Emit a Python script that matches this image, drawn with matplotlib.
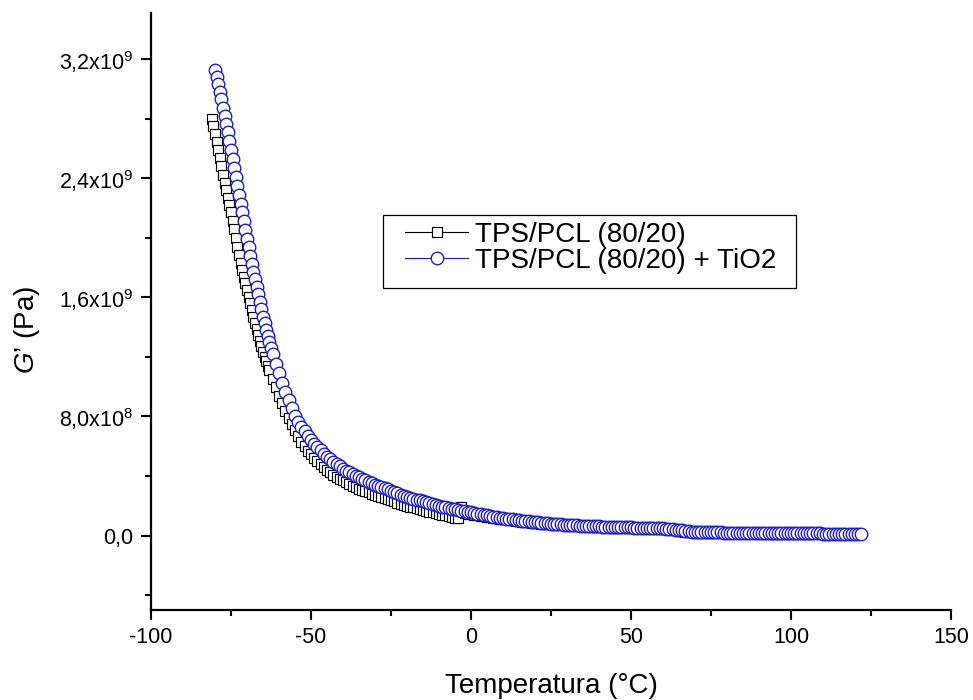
import matplotlib
matplotlib.use("Agg")
import matplotlib.pyplot as plt
from matplotlib.ticker import FixedLocator, MultipleLocator
from matplotlib.patches import Rectangle
from matplotlib.transforms import IdentityTransform

plt.rcParams['font.family'] = ['Liberation Sans', 'DejaVu Sans']
plt.rcParams['mathtext.fontset'] = 'custom'
plt.rcParams['mathtext.rm'] = 'Liberation Sans'
plt.rcParams['mathtext.it'] = 'Liberation Sans:italic'

# ---------------- data (G' in units of 1e9 Pa) ----------------
temp_pcl = [-81, -80.5, -80, -79.5, -79, -78.5, -78, -77.5, -77, -76.5, -76, -75.5, -75, -74.5,
            -74, -73.5, -73, -72.5, -72, -71.5, -71, -70.5, -70, -69.5, -69, -68.5, -68, -67.5,
            -67, -66.5, -66, -65.5, -65, -64.5, -64, -63.5, -63,
            -62, -61, -60, -59, -58, -57, -56, -55, -54, -53, -52, -51, -50, -49, -48, -47,
            -46, -45, -44, -43, -42, -41, -40, -39, -38, -37, -36, -35, -34, -33, -32, -31,
            -30, -29, -28, -27, -26, -25, -24, -23, -22, -21, -20, -19, -18, -17, -16, -15,
            -14, -13, -12, -11, -10, -9, -8, -7, -6, -5, -4, -3, -2, -1, 0, 1, 2, 3, 4, 5,
            6, 7, 8, 9, 10, 11, 12, 13, 14, 15, 16, 17, 18, 19, 20, 21, 22, 23, 24, 25, 26,
            27, 28, 29, 30, 31, 32, 33, 34, 35, 36, 37, 38, 39, 40, 41, 42, 43, 44, 45, 46,
            47, 48, 49, 50, 51, 52, 53, 54, 55, 56, 57, 58, 59, 60, 61, 62, 63, 64, 65, 66,
            67, 68, 69, 70, 71, 72, 73, 74, 75, 76, 77, 78, 79, 80, 81, 82, 83, 84, 85, 86,
            87, 88, 89, 90, 91, 92, 93, 94, 95, 96, 97, 98, 99, 100, 101, 102, 103, 104,
            105, 106, 107]
g_pcl = [2.80, 2.75, 2.70, 2.645, 2.59, 2.535, 2.48, 2.425, 2.37, 2.32, 2.27, 2.22, 2.17, 2.115,
         2.06, 2.00, 1.94, 1.885, 1.83, 1.785, 1.74, 1.695, 1.65, 1.605, 1.56, 1.515, 1.47, 1.43,
         1.39, 1.35, 1.31, 1.27, 1.23, 1.20, 1.17, 1.14, 1.11,
         1.05, 1.00, 0.94, 0.89, 0.84, 0.79, 0.75, 0.71, 0.67, 0.63, 0.60, 0.57, 0.545, 0.52,
         0.50, 0.48, 0.46, 0.44, 0.425, 0.41, 0.395, 0.38, 0.37, 0.357, 0.345, 0.335, 0.325,
         0.315, 0.305, 0.297, 0.29, 0.282, 0.275, 0.267, 0.26, 0.252, 0.245, 0.237, 0.23,
         0.222, 0.215, 0.207, 0.200, 0.195, 0.19, 0.184, 0.178, 0.172, 0.167, 0.161, 0.156,
         0.15, 0.145, 0.14, 0.135, 0.13, 0.125, 0.121, 0.118, 0.19, 0.15, 0.148, 0.145, 0.141,
         0.138, 0.134, 0.131, 0.127, 0.124, 0.12, 0.117, 0.114, 0.111, 0.108, 0.105, 0.102,
         0.099, 0.096, 0.094, 0.091, 0.089, 0.087, 0.085, 0.083, 0.081, 0.079, 0.077, 0.075,
         0.074, 0.072, 0.071, 0.069, 0.068, 0.066, 0.065, 0.064, 0.063, 0.062, 0.061, 0.060,
         0.059, 0.058, 0.057, 0.056, 0.056, 0.055, 0.054, 0.054, 0.053, 0.053, 0.052, 0.052,
         0.051, 0.051, 0.050, 0.050, 0.049, 0.049, 0.048, 0.047, 0.046, 0.045, 0.044, 0.043,
         0.041, 0.039, 0.036, 0.033, 0.030, 0.027, 0.025, 0.023, 0.021, 0.020, 0.019, 0.019,
         0.018, 0.018, 0.017, 0.017, 0.017, 0.016, 0.016, 0.016, 0.016, 0.015, 0.015, 0.015,
         0.015, 0.014, 0.014, 0.014, 0.014, 0.013, 0.013, 0.013, 0.013, 0.012, 0.012, 0.012,
         0.012, 0.012, 0.012, 0.011, 0.011, 0.011, 0.011, 0.011, 0.011, 0.011]

temp_tio2 = [-80, -79.5, -79, -78.5, -78, -77.5, -77, -76.5, -76, -75.5, -75, -74.5, -74, -73.5,
             -73, -72.5, -72, -71.5, -71, -70.5, -70, -69.5, -69, -68.5, -68, -67.5, -67, -66.5,
             -66, -65.5, -65, -64.5, -64, -63.5, -63, -62.5, -62,
             -61, -60, -59, -58, -57, -56, -55, -54, -53, -52, -51, -50, -49, -48, -47, -46,
             -45, -44, -43, -42, -41, -40, -39, -38, -37, -36, -35, -34, -33, -32, -31, -30,
             -29, -28, -27, -26, -25, -24, -23, -22, -21, -20, -19, -18, -17, -16, -15, -14,
             -13, -12, -11, -10, -9, -8, -7, -6, -5, -4, -3, -2, -1, 0, 1, 2, 3, 4, 5, 6, 7,
             8, 9, 10, 11, 12, 13, 14, 15, 16, 17, 18, 19, 20, 21, 22, 23, 24, 25, 26, 27, 28,
             29, 30, 31, 32, 33, 34, 35, 36, 37, 38, 39, 40, 41, 42, 43, 44, 45, 46, 47, 48,
             49, 50, 51, 52, 53, 54, 55, 56, 57, 58, 59, 60, 61, 62, 63, 64, 65, 66, 67, 68,
             69, 70, 71, 72, 73, 74, 75, 76, 77, 78, 79, 80, 81, 82, 83, 84, 85, 86, 87, 88,
             89, 90, 91, 92, 93, 94, 95, 96, 97, 98, 99, 100, 101, 102, 103, 104, 105, 106,
             107, 108, 109, 110, 111, 112, 113, 114, 115, 116, 117, 118, 119, 120, 121, 122]
g_tio2 = [3.13, 3.08, 3.03, 2.98, 2.93, 2.875, 2.82, 2.765, 2.71, 2.65, 2.59, 2.53, 2.47, 2.41,
          2.35, 2.29, 2.23, 2.17, 2.11, 2.05, 1.99, 1.935, 1.88, 1.825, 1.77, 1.72, 1.67, 1.62,
          1.57, 1.52, 1.47, 1.425, 1.38, 1.34, 1.30, 1.26, 1.22,
          1.15, 1.09, 1.025, 0.965, 0.91, 0.855, 0.80, 0.765, 0.73, 0.70, 0.67, 0.64, 0.615,
          0.595, 0.575, 0.55, 0.53, 0.515, 0.495, 0.48, 0.465, 0.45, 0.437, 0.425, 0.412,
          0.40, 0.39, 0.38, 0.37, 0.36, 0.35, 0.34, 0.332, 0.325, 0.317, 0.31, 0.30, 0.29,
          0.283, 0.275, 0.267, 0.26, 0.254, 0.248, 0.242, 0.236, 0.23, 0.224, 0.218, 0.212,
          0.206, 0.20, 0.195, 0.19, 0.185, 0.18, 0.176, 0.172, 0.167, 0.163, 0.159, 0.155,
          0.151, 0.147, 0.143, 0.139, 0.135, 0.131, 0.127, 0.124, 0.12, 0.117, 0.114, 0.111,
          0.108, 0.105, 0.102, 0.100, 0.097, 0.095, 0.092, 0.090, 0.088, 0.086, 0.084, 0.082,
          0.080, 0.078, 0.076, 0.075, 0.073, 0.072, 0.070, 0.069, 0.068, 0.067, 0.066, 0.065,
          0.064, 0.063, 0.062, 0.061, 0.060, 0.060, 0.059, 0.058, 0.057, 0.057, 0.056, 0.056,
          0.055, 0.055, 0.054, 0.054, 0.053, 0.053, 0.052, 0.052, 0.051, 0.050, 0.049, 0.048,
          0.047, 0.045, 0.043, 0.040, 0.037, 0.034, 0.031, 0.029, 0.027, 0.025, 0.024, 0.023,
          0.023, 0.022, 0.022, 0.021, 0.021, 0.021, 0.020, 0.020, 0.020, 0.020, 0.019, 0.019,
          0.019, 0.019, 0.018, 0.018, 0.018, 0.018, 0.017, 0.017, 0.017, 0.017, 0.016, 0.016,
          0.016, 0.016, 0.016, 0.016, 0.015, 0.015, 0.015, 0.015, 0.015, 0.015, 0.014, 0.014,
          0.014, 0.013, 0.013, 0.013, 0.013, 0.012, 0.012, 0.012, 0.012, 0.012, 0.011, 0.011,
          0.011, 0.011]

series_labels = ["TPS/PCL (80/20)", "TPS/PCL (80/20) + TiO2"]
y_ticks = [0.0, 0.8e9, 1.6e9, 2.4e9, 3.2e9]
y_tick_labels = ["0,0", r"8,0x$\mathregular{10^{8}}$", r"1,6x$\mathregular{10^{9}}$",
                 r"2,4x$\mathregular{10^{9}}$", r"3,2x$\mathregular{10^{9}}$"]
x_ticks = [-100, -50, 0, 50, 100, 150]

# ---------------- plot ----------------
fig = plt.figure(figsize=(9.73, 7.0), dpi=100)
ax = fig.add_axes([151 / 973, 90 / 700, 800 / 973, 597 / 700])

blue = '#1e1ec8'
ax.plot(temp_pcl, [v * 1e9 for v in g_pcl], '-', color='black', lw=0.8,
        marker='s', markersize=6.5, markerfacecolor='white', markeredgecolor='black',
        markeredgewidth=0.85, label=series_labels[0], zorder=2)
ax.plot(temp_tio2, [v * 1e9 for v in g_tio2], '-', color=blue, lw=0.8,
        marker='o', markersize=9, markerfacecolor='white', markeredgecolor=blue,
        markeredgewidth=1.0, label=series_labels[1], zorder=3)

ax.set_xlim(-100, 150)
ax.set_ylim(-5.0e8, 3.51e9)

ax.xaxis.set_major_locator(FixedLocator(x_ticks))
ax.xaxis.set_minor_locator(MultipleLocator(25))
ax.set_xticklabels([str(t) for t in x_ticks])
ax.yaxis.set_major_locator(FixedLocator(y_ticks))
ax.yaxis.set_minor_locator(FixedLocator([-4e8, 4e8, 1.2e9, 2.0e9, 2.8e9]))
ax.set_yticklabels(y_tick_labels)

for s in ['top', 'right']:
    ax.spines[s].set_visible(False)
for s in ['left', 'bottom']:
    ax.spines[s].set_linewidth(1.6)

ax.tick_params(which='major', direction='out', length=7.5, width=1.5, labelsize=15.5, pad=5)
ax.tick_params(which='minor', direction='out', length=4.5, width=1.5)

ax.set_xlabel("Temperatura (°C)", fontsize=20)
ax.xaxis.set_label_coords(0.5, -0.105)
ax.set_ylabel("$\\mathit{G\u2019}$ (Pa)", fontsize=20)
ax.yaxis.set_label_coords(-0.136, 0.469)

leg = ax.legend(loc='upper left', bbox_to_anchor=(0.3175, 0.650), borderaxespad=0,
                fontsize=20, frameon=False, handlelength=2.27, handletextpad=0.25,
                labelspacing=0.0, borderpad=0.0)

fig.canvas.draw()
bb = leg.get_window_extent(fig.canvas.get_renderer())
frame = Rectangle((bb.x0 - 22, bb.y0 - 14), bb.width + 42, bb.height + 21,
                  transform=IdentityTransform(), fill=False, edgecolor='black',
                  linewidth=0.9, zorder=5)
fig.patches.append(frame)

fig.savefig("out.png", dpi=100)
